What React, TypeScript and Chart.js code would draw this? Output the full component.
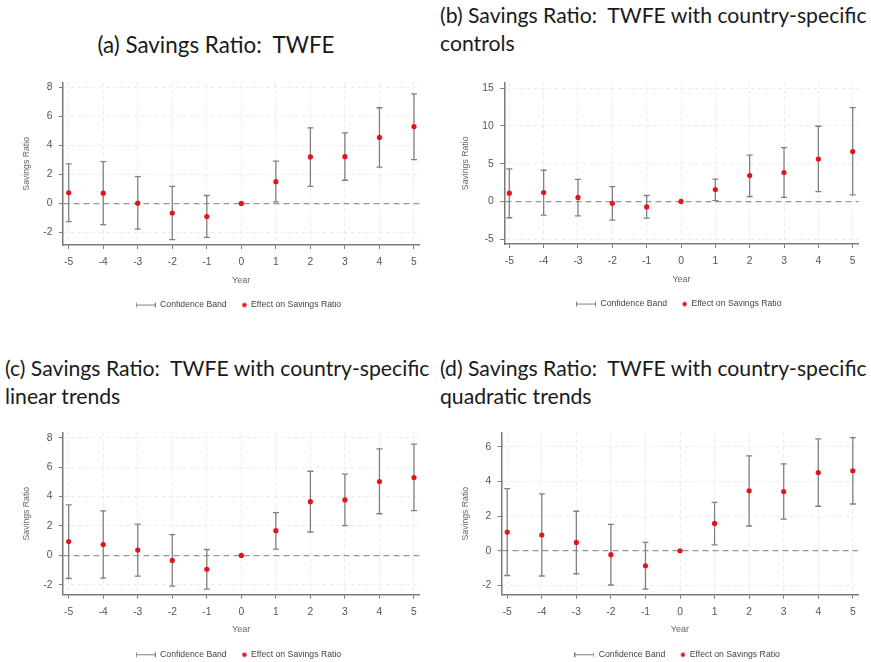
import React, { useEffect, useRef } from 'react';
import { Chart, registerables } from 'chart.js';

Chart.register(...registerables);
Chart.defaults.font.family = '"Liberation Sans", Arial, Helvetica, sans-serif';

// ---------- data ----------
const years = [-5, -4, -3, -2, -1, 0, 1, 2, 3, 4, 5];

const estA = [0.73, 0.71, 0.02, -0.66, -0.91, 0, 1.5, 3.21, 3.23, 4.56, 5.31];
const loA = [-1.25, -1.46, -1.78, -2.5, -2.35, null, 0.11, 1.18, 1.6, 2.51, 3.03];
const hiA = [2.73, 2.89, 1.85, 1.18, 0.55, null, 2.92, 5.22, 4.87, 6.61, 7.56];

const estB = [1.09, 1.17, 0.52, -0.26, -0.74, 0, 1.57, 3.43, 3.83, 5.61, 6.61];
const loB = [-2.17, -1.83, -1.91, -2.48, -2.22, null, 0.09, 0.65, 0.52, 1.3, 0.87];
const hiB = [4.3, 4.13, 2.91, 1.96, 0.78, null, 2.96, 6.13, 7.13, 9.96, 12.43];

const estC = [0.94, 0.74, 0.36, -0.34, -0.94, 0, 1.68, 3.65, 3.77, 5.02, 5.29];
const loC = [-1.57, -1.55, -1.41, -2.09, -2.29, null, 0.43, 1.59, 2.02, 2.83, 3.05];
const hiC = [3.43, 3.02, 2.13, 1.41, 0.4, null, 2.91, 5.72, 5.52, 7.24, 7.56];

const estD = [1.08, 0.91, 0.48, -0.23, -0.87, 0, 1.58, 3.46, 3.42, 4.52, 4.62];
const loD = [-1.43, -1.46, -1.33, -1.98, -2.22, null, 0.34, 1.43, 1.83, 2.57, 2.7];
const hiD = [3.59, 3.29, 2.28, 1.52, 0.48, null, 2.79, 5.48, 5.02, 6.46, 6.54];

const yTicksA = [-2, 0, 2, 4, 6, 8];
const yTicksB = [-5, 0, 5, 10, 15];
const yTicksC = [-2, 0, 2, 4, 6, 8];
const yTicksD = [-2, 0, 2, 4, 6];

const titleA = ['(a) Savings Ratio:  TWFE'];
const titleB = ['(b) Savings Ratio:  TWFE with country-specific', 'controls'];
const titleC = ['(c) Savings Ratio:  TWFE with country-specific', 'linear trends'];
const titleD = ['(d) Savings Ratio:  TWFE with country-specific', 'quadratic trends'];

const X_LABEL = 'Year';
const Y_LABEL = 'Savings Ratio';
const LEG_BAND = 'Confidence Band';
const LEG_EST = 'Effect on Savings Ratio';

// ---------- style / layout ----------
const SMALL_FONT = 8.7;
const TICK_FONT = 10.3;
const X_AXIS_H = 55.7;
const LEGEND_H = SMALL_FONT + 10;
const BAR_COLOR = '#808080';
const DOT_COLOR = '#e3141c';
const AXIS_COLOR = '#7a7a7a';

type PanelSpec = {
  est: number[]; lo: (number | null)[]; hi: (number | null)[]; yTicks: number[];
  yMin: number; yMax: number; xMin: number; xMax: number;
  canvasLeft: number; canvasTop: number; canvasW: number; canvasH: number;
  plotLeft: number; plotRight: number; plotTop: number; plotBottom: number;
  yTitleX: number;
  title: string[]; titleLeft: number; titleTop: number; titleW: number; titleAlign: 'left' | 'center'; titleSize: number;
};

const panels: PanelSpec[] = [
  { est: estA, lo: loA, hi: hiA, yTicks: yTicksA, yMin: -2.87, yMax: 8.34, xMin: -5.165, xMax: 5.154,
    canvasLeft: 0, canvasTop: 70, canvasW: 435, canvasH: 252,
    plotLeft: 63, plotRight: 419.3, plotTop: 81, plotBottom: 245, yTitleX: 27,
    title: titleA, titleLeft: 0, titleTop: 31, titleW: 432, titleAlign: 'center', titleSize: 22.4 },
  { est: estB, lo: loB, hi: hiB, yTicks: yTicksB, yMin: -5.65, yMax: 15.74, xMin: -5.146, xMax: 5.175,
    canvasLeft: 436, canvasTop: 70, canvasW: 435, canvasH: 252,
    plotLeft: 504.3, plotRight: 858.7, plotTop: 80, plotBottom: 244, yTitleX: 466,
    title: titleB, titleLeft: 440, titleTop: 1, titleW: 431, titleAlign: 'left', titleSize: 21.2 },
  { est: estC, lo: loC, hi: hiC, yTicks: yTicksC, yMin: -2.67, yMax: 8.34, xMin: -5.165, xMax: 5.154,
    canvasLeft: 0, canvasTop: 420, canvasW: 435, canvasH: 242,
    plotLeft: 63, plotRight: 419.3, plotTop: 431, plotBottom: 594.7, yTitleX: 27,
    title: titleC, titleLeft: 5, titleTop: 354, titleW: 430, titleAlign: 'left', titleSize: 21.2 },
  { est: estD, lo: loD, hi: hiD, yTicks: yTicksD, yMin: -2.54, yMax: 6.82, xMin: -5.16, xMax: 5.15,
    canvasLeft: 436, canvasTop: 420, canvasW: 435, canvasH: 242,
    plotLeft: 501.7, plotRight: 858, plotTop: 430.7, plotBottom: 594.7, yTitleX: 466,
    title: titleD, titleLeft: 440, titleTop: 354, titleW: 431, titleAlign: 'left', titleSize: 21.2 },
];

function makeBandIcon(): HTMLCanvasElement {
  const c = document.createElement('canvas');
  c.width = 20; c.height = 9;
  const g = c.getContext('2d')!;
  g.strokeStyle = BAR_COLOR; g.lineWidth = 1;
  g.beginPath();
  g.moveTo(0.5, 4.5); g.lineTo(19.5, 4.5);
  g.moveTo(0.5, 2); g.lineTo(0.5, 7);
  g.moveTo(19.5, 2); g.lineTo(19.5, 7);
  g.stroke();
  return c;
}
function makeDotIcon(): HTMLCanvasElement {
  const c = document.createElement('canvas');
  c.width = 20; c.height = 9;
  const g = c.getContext('2d')!;
  g.fillStyle = DOT_COLOR;
  g.beginPath(); g.arc(17.6, 4.5, 2.2, 0, Math.PI * 2); g.fill();
  return c;
}

const legendCenter = {
  id: 'legendCenter',
  afterLayout(chart: any) {
    const lg = chart.legend;
    if (!lg) return;
    const c = (chart.chartArea.left + chart.chartArea.right) / 2 - 2.7;
    const w = lg.right - lg.left;
    lg.left = c - w / 2;
    lg.right = c + w / 2;
  },
};

function Panel({ s }: { s: PanelSpec }) {
  const ref = useRef<HTMLCanvasElement>(null);
  useEffect(() => {
    const lh = SMALL_FONT * 1.2;
    const padTop = s.plotTop - s.canvasTop;
    const padL = s.yTitleX - lh / 2 - s.canvasLeft;
    const yW = s.plotLeft - (s.yTitleX - lh / 2);
    const padR = s.canvasLeft + s.canvasW - s.plotRight;
    const plotH = s.plotBottom - s.plotTop;
    const padB = s.canvasH - padTop - plotH - X_AXIS_H - LEGEND_H;

    const estData = years.map((x, i) => ({ x, y: s.est[i] }));
    const bandData: any[] = [];
    years.forEach((x, i) => {
      if (s.lo[i] == null || s.hi[i] == null) return;
      bandData.push({ x, y: s.lo[i] }, { x, y: s.hi[i] }, { x, y: null });
    });

    const bandIcon = makeBandIcon();
    const dotIcon = makeDotIcon();

    const chart = new Chart(ref.current!, {
      type: 'scatter',
      data: {
        datasets: [
          {
            label: LEG_EST,
            data: estData,
            pointRadius: 2.6,
            pointHoverRadius: 2.6,
            pointBackgroundColor: DOT_COLOR,
            pointBorderWidth: 0,
          },
          {
            label: LEG_BAND,
            data: bandData,
            showLine: true,
            spanGaps: false,
            borderColor: BAR_COLOR,
            borderWidth: 1.3,
            pointStyle: 'line',
            pointRadius: 3,
            pointHoverRadius: 3,
            pointBorderColor: BAR_COLOR,
            pointBorderWidth: 1.3,
          } as any,
        ],
      },
      options: {
        responsive: false,
        animation: false,
        events: [],
        layout: { padding: { left: padL, right: padR, top: padTop, bottom: padB } },
        scales: {
          x: {
            type: 'linear',
            min: s.xMin,
            max: s.xMax,
            afterBuildTicks: (sc: any) => { sc.ticks = years.map((v) => ({ value: v })); },
            afterFit: (sc: any) => { sc.height = X_AXIS_H; },
            grid: { color: '#ebebeb', lineWidth: 1, tickLength: 4, tickColor: AXIS_COLOR, tickWidth: 1 },
            border: { color: AXIS_COLOR, width: 1.5, dash: [4, 3] },
            ticks: { color: '#555', font: { size: TICK_FONT }, padding: 7, maxRotation: 0, autoSkip: false },
            title: { display: true, text: X_LABEL, color: '#666', font: { size: SMALL_FONT + 0.3 }, padding: { top: 0, bottom: 15 } },
          },
          y: {
            type: 'linear',
            min: s.yMin,
            max: s.yMax,
            afterBuildTicks: (sc: any) => { sc.ticks = s.yTicks.map((v) => ({ value: v })); },
            afterFit: (sc: any) => { sc.width = yW; },
            grid: {
              color: (ctx: any) => (ctx.tick && ctx.tick.value === 0 ? '#959595' : '#ebebeb'),
              lineWidth: (ctx: any) => (ctx.tick && ctx.tick.value === 0 ? 1.3 : 1),
              tickLength: 4,
              tickColor: AXIS_COLOR,
              tickWidth: 1,
            },
            border: {
              color: AXIS_COLOR,
              width: 1.5,
              dash: (ctx: any) => (ctx.tick && ctx.tick.value === 0 ? [6, 4] : [4, 3]),
            } as any,
            ticks: { color: '#555', font: { size: TICK_FONT }, padding: 6.5 },
            title: { display: true, text: Y_LABEL, color: '#666', font: { size: SMALL_FONT }, padding: { top: 0, bottom: 0 } },
          },
        },
        plugins: {
          tooltip: { enabled: false },
          legend: {
            position: 'bottom',
            labels: {
              usePointStyle: true,
              pointStyleWidth: 20,
              padding: 0,
              font: { size: SMALL_FONT },
              color: '#444',
              generateLabels: () => [
                { text: LEG_BAND, pointStyle: bandIcon, fillStyle: BAR_COLOR, strokeStyle: BAR_COLOR, lineWidth: 0, hidden: false, datasetIndex: 1, fontColor: '#444' } as any,
                { text: LEG_EST, pointStyle: dotIcon, fillStyle: DOT_COLOR, strokeStyle: DOT_COLOR, lineWidth: 0, hidden: false, datasetIndex: 0, fontColor: '#444' } as any,
              ],
            },
          },
        },
      } as any,
      plugins: [legendCenter],
    });
    return () => chart.destroy();
  }, [s]);

  return (
    <>
      <div
        style={{
          position: 'absolute', left: s.titleLeft, top: s.titleTop, width: s.titleW, textAlign: s.titleAlign,
          fontFamily: 'Lato, "Open Sans", sans-serif', fontSize: s.titleSize, lineHeight: '28px', color: '#1a1a1a',
        }}
      >
        {s.title.map((t, i) => (<div key={i} style={{ whiteSpace: 'pre' }}>{t}</div>))}
      </div>
      <canvas
        ref={ref}
        width={s.canvasW}
        height={s.canvasH}
        style={{ position: 'absolute', left: s.canvasLeft, top: s.canvasTop, width: s.canvasW, height: s.canvasH }}
      />
    </>
  );
}

export default function App() {
  return (
    <div style={{ position: 'absolute', left: 0, top: 0, width: 871, height: 662, background: '#fff', overflow: 'hidden' }}>
      {panels.map((p, i) => (<Panel key={i} s={p} />))}
    </div>
  );
}
